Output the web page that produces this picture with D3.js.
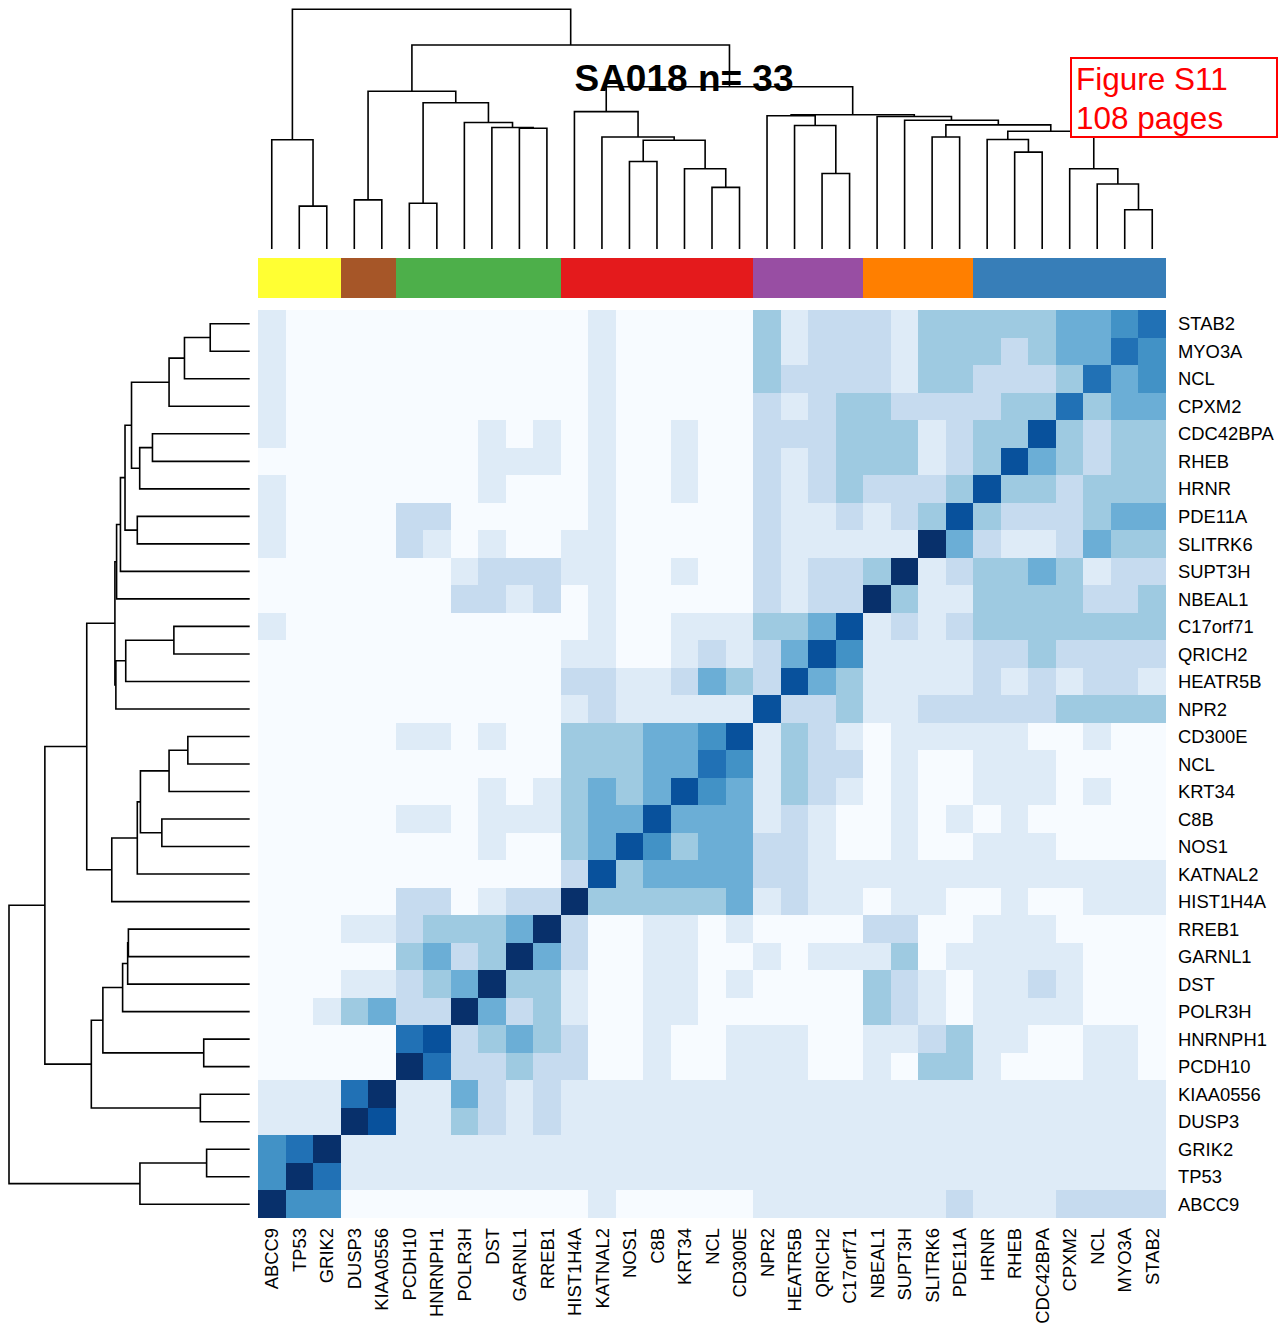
<!DOCTYPE html>
<html>
<head>
<meta charset="utf-8">
<script src="https://cdn.jsdelivr.net/npm/d3@7"></script>
<style>
  html, body { margin: 0; padding: 0; background: #fff; }
  svg { display: block; }
  text { font-family: "Liberation Sans", Arial, sans-serif; }
</style>
</head>
<body>
<svg id="chart" width="1288" height="1326"></svg>
<script>
// Gene order along the columns (left to right)
const colLabels = ["ABCC9","TP53","GRIK2","DUSP3","KIAA0556","PCDH10","HNRNPH1","POLR3H","DST","GARNL1","RREB1",
  "HIST1H4A","KATNAL2","NOS1","C8B","KRT34","NCL","CD300E","NPR2","HEATR5B","QRICH2","C17orf71",
  "NBEAL1","SUPT3H","SLITRK6","PDE11A","HRNR","RHEB","CDC42BPA","CPXM2","NCL","MYO3A","STAB2"];

// Gene order along the rows (top to bottom)
const rowLabels = ["STAB2","MYO3A","NCL","CPXM2","CDC42BPA","RHEB","HRNR","PDE11A","SLITRK6","SUPT3H","NBEAL1",
  "C17orf71","QRICH2","HEATR5B","NPR2","CD300E","NCL","KRT34","C8B","NOS1","KATNAL2","HIST1H4A",
  "RREB1","GARNL1","DST","POLR3H","HNRNPH1","PCDH10","KIAA0556","DUSP3","GRIK2","TP53","ABCC9"];

// Cluster membership of each column (colour bar)
const colGroups = [1,1,1,2,2,3,3,3,3,3,3,4,4,4,4,4,4,4,5,5,5,5,6,6,6,6,7,7,7,7,7,7,7];
const groupColors = ["#FFFF33","#A65628","#4DAF4A","#E41A1C","#984EA3","#FF7F00","#377EB8"];

// Binned similarity level (0 = none ... 8 = strongest), one row per rowLabels entry
const levels = [
  [1,0,0,0,0,0,0,0,0,0,0,0,1,0,0,0,0,0,3,1,2,2,2,1,3,3,3,3,3,4,4,5,6],
  [1,0,0,0,0,0,0,0,0,0,0,0,1,0,0,0,0,0,3,1,2,2,2,1,3,3,3,2,3,4,4,6,5],
  [1,0,0,0,0,0,0,0,0,0,0,0,1,0,0,0,0,0,3,2,2,2,2,1,3,3,2,2,2,3,6,4,5],
  [1,0,0,0,0,0,0,0,0,0,0,0,1,0,0,0,0,0,2,1,2,3,3,2,2,2,2,3,3,6,3,4,4],
  [1,0,0,0,0,0,0,0,1,0,1,0,1,0,0,1,0,0,2,2,2,3,3,3,1,2,3,3,7,3,2,3,3],
  [0,0,0,0,0,0,0,0,1,1,1,0,1,0,0,1,0,0,2,1,2,3,3,3,1,2,3,7,4,3,2,3,3],
  [1,0,0,0,0,0,0,0,1,0,0,0,1,0,0,1,0,0,2,1,2,3,2,2,2,3,7,3,3,2,3,3,3],
  [1,0,0,0,0,2,2,0,0,0,0,0,1,0,0,0,0,0,2,1,1,2,1,2,3,7,3,2,2,2,3,4,4],
  [1,0,0,0,0,2,1,0,1,0,0,1,1,0,0,0,0,0,2,1,1,1,1,1,8,4,2,1,1,2,4,3,3],
  [0,0,0,0,0,0,0,1,2,2,2,1,1,0,0,1,0,0,2,1,2,2,3,8,1,2,3,3,4,3,1,2,2],
  [0,0,0,0,0,0,0,2,2,1,2,0,1,0,0,0,0,0,2,1,2,2,8,3,1,1,3,3,3,3,2,2,3],
  [1,0,0,0,0,0,0,0,0,0,0,0,1,0,0,1,1,1,3,3,4,7,1,2,1,2,3,3,3,3,3,3,3],
  [0,0,0,0,0,0,0,0,0,0,0,1,1,0,0,1,2,1,2,4,7,5,1,1,1,1,2,2,3,2,2,2,2],
  [0,0,0,0,0,0,0,0,0,0,0,2,2,1,1,2,4,3,2,7,4,3,1,1,1,1,2,1,2,1,2,2,1],
  [0,0,0,0,0,0,0,0,0,0,0,1,2,1,1,1,1,1,7,2,2,3,1,1,2,2,2,2,2,3,3,3,3],
  [0,0,0,0,0,1,1,0,1,0,0,3,3,3,4,4,5,7,1,3,2,1,0,1,1,1,1,1,0,0,1,0,0],
  [0,0,0,0,0,0,0,0,0,0,0,3,3,3,4,4,6,5,1,3,2,2,0,1,0,0,1,1,1,0,0,0,0],
  [0,0,0,0,0,0,0,0,1,0,1,3,4,3,4,7,5,4,1,3,2,1,0,1,0,0,1,1,1,0,1,0,0],
  [0,0,0,0,0,1,1,0,1,1,1,3,4,4,7,4,4,4,1,2,1,0,0,1,0,1,0,1,0,0,0,0,0],
  [0,0,0,0,0,0,0,0,1,0,0,3,4,7,5,3,4,4,2,2,1,0,0,1,0,0,1,1,1,0,0,0,0],
  [0,0,0,0,0,0,0,0,0,0,0,2,7,3,4,4,4,4,2,2,1,1,1,1,1,1,1,1,1,1,1,1,1],
  [0,0,0,0,0,2,2,0,1,2,2,8,3,3,3,3,3,4,1,2,1,1,0,1,1,0,0,1,0,0,1,1,1],
  [0,0,0,1,1,2,3,3,3,4,8,2,0,0,1,1,0,1,0,0,0,0,2,2,0,0,1,1,1,0,0,0,0],
  [0,0,0,0,0,3,4,2,3,8,4,2,0,0,1,1,0,0,1,0,1,1,1,3,0,1,1,1,1,1,0,0,0],
  [0,0,0,1,1,2,3,4,8,3,3,1,0,0,1,1,0,1,0,0,0,0,3,2,1,0,1,1,2,1,0,0,0],
  [0,0,1,3,4,2,2,8,4,2,3,1,0,0,1,1,0,0,0,0,0,0,3,2,1,0,1,1,1,1,0,0,0],
  [0,0,0,0,0,6,7,2,3,4,3,2,0,0,1,0,0,1,1,1,0,0,1,1,2,3,1,1,0,0,1,1,0],
  [0,0,0,0,0,8,6,2,2,3,2,2,0,0,1,0,0,1,1,1,0,0,1,0,3,3,1,0,0,0,1,1,0],
  [1,1,1,6,8,1,1,4,2,1,2,1,1,1,1,1,1,1,1,1,1,1,1,1,1,1,1,1,1,1,1,1,1],
  [1,1,1,8,7,1,1,3,2,1,2,1,1,1,1,1,1,1,1,1,1,1,1,1,1,1,1,1,1,1,1,1,1],
  [5,6,8,1,1,1,1,1,1,1,1,1,1,1,1,1,1,1,1,1,1,1,1,1,1,1,1,1,1,1,1,1,1],
  [5,8,6,1,1,1,1,1,1,1,1,1,1,1,1,1,1,1,1,1,1,1,1,1,1,1,1,1,1,1,1,1,1],
  [8,5,5,0,0,0,0,0,0,0,0,0,1,0,0,0,0,0,1,1,1,1,1,1,1,2,1,1,1,2,2,2,2]
];

// Hierarchical clustering merges (hclust convention: -k = leaf at column k, +k = merge k), with merge height
const merges = [
  [-2,-3,0.179],[-1,1,0.456],[-4,-5,0.205],[-6,-7,0.191],[-10,-11,0.504],[-9,5,0.507],
  [-8,6,0.528],[4,7,0.610],[3,8,0.658],[-14,-15,0.365],[-17,-18,0.257],[-16,11,0.335],
  [10,12,0.454],[-13,13,0.467],[-12,14,0.573],[-21,-22,0.315],[-20,16,0.515],[-19,17,0.556],
  [-25,-26,0.467],[-28,-29,0.404],[-27,20,0.457],[-32,-33,0.164],[-31,22,0.271],[-30,23,0.335],
  [21,24,0.491],[19,25,0.518],[-24,26,0.537],[-23,27,0.553],[18,28,0.560],[15,29,0.677],
  [9,30,0.851],[2,31,1.0]
];

const titleText = "SA018 n= 33";
const noteLines = ["Figure S11", "108 pages"];

// ---------------------------------------------------------------------------
const svg = d3.select("#chart");
const n = colLabels.length;

const x = d3.scaleBand().domain(d3.range(n)).range([258, 1166]);
const y = d3.scaleBand().domain(d3.range(n)).range([310, 1218]);
const color = d3.scaleOrdinal().domain(d3.range(9)).range(d3.schemeBlues[9]);
const groupColor = d3.scaleOrdinal().domain(d3.range(1, 8)).range(groupColors);

// Heatmap cells
const cells = [];
levels.forEach((row, r) => row.forEach((v, c) => cells.push({ r, c, v })));
svg.append("g")
  .selectAll("rect")
  .data(cells)
  .join("rect")
  .attr("x", d => x(d.c))
  .attr("y", d => y(d.r))
  .attr("width", x.bandwidth() + 0.4)
  .attr("height", y.bandwidth() + 0.4)
  .attr("fill", d => color(d.v))
  .attr("shape-rendering", "crispEdges");

// Column colour bar
const barY = d3.scaleLinear().domain([0, 1]).range([258, 297.7]);
svg.append("g")
  .selectAll("rect")
  .data(colGroups)
  .join("rect")
  .attr("x", (g, i) => x(i))
  .attr("y", barY(0))
  .attr("width", x.bandwidth() + 0.4)
  .attr("height", barY(1) - barY(0))
  .attr("fill", g => groupColor(g))
  .attr("shape-rendering", "crispEdges");

// Dendrogram layout from merge table
function layoutTree(leafPos) {
  const nodes = [];
  const get = k => (k < 0 ? { p: leafPos(-k - 1), h: 0 } : nodes[k - 1]);
  const links = [];
  merges.forEach(([a, b, h]) => {
    const A = get(a), B = get(b);
    links.push({ A, B, h });
    nodes.push({ p: (A.p + B.p) / 2, h });
  });
  return links;
}

// Column dendrogram (top)
const colH = d3.scaleLinear().domain([0, 1]).range([249, 9.3]);
const colLinks = layoutTree(i => x(i) + x.bandwidth() / 2);
svg.append("g")
  .attr("fill", "none").attr("stroke", "#000").attr("stroke-width", 1.6)
  .selectAll("path")
  .data(colLinks)
  .join("path")
  .attr("d", d => `M${d.A.p},${colH(d.A.h)}V${colH(d.h)}H${d.B.p}V${colH(d.B.h)}`);

// Row dendrogram (left); rows run in reverse column order
const rowH = d3.scaleLinear().domain([0, 1]).range([249.7, 9]);
const rowLinks = layoutTree(i => y(n - 1 - i) + y.bandwidth() / 2);
svg.append("g")
  .attr("fill", "none").attr("stroke", "#000").attr("stroke-width", 1.6)
  .selectAll("path")
  .data(rowLinks)
  .join("path")
  .attr("d", d => `M${rowH(d.A.h)},${d.A.p}H${rowH(d.h)}V${d.B.p}H${rowH(d.B.h)}`);

// Row labels
svg.append("g")
  .selectAll("text")
  .data(rowLabels)
  .join("text")
  .attr("x", 1178)
  .attr("y", (d, i) => y(i) + y.bandwidth() / 2)
  .attr("dy", "0.36em")
  .attr("font-size", 18.4)
  .attr("fill", "#000")
  .text(d => d);

// Column labels, rotated
svg.append("g")
  .selectAll("text")
  .data(colLabels)
  .join("text")
  .attr("transform", (d, i) => `translate(${x(i) + x.bandwidth() / 2},1228) rotate(-90)`)
  .attr("text-anchor", "end")
  .attr("dy", "0.36em")
  .attr("font-size", 18.4)
  .attr("fill", "#000")
  .text(d => d);

// Title
svg.append("text")
  .attr("x", 684)
  .attr("y", 91)
  .attr("text-anchor", "middle")
  .attr("font-size", 37)
  .attr("font-weight", "bold")
  .attr("fill", "#000")
  .text(titleText);

// Red annotation box
svg.append("rect")
  .attr("x", 1071).attr("y", 58)
  .attr("width", 206).attr("height", 79)
  .attr("fill", "#fff").attr("stroke", "#FF0000").attr("stroke-width", 2);
svg.append("g")
  .selectAll("text")
  .data(noteLines)
  .join("text")
  .attr("x", 1076)
  .attr("y", (d, i) => 90 + i * 39)
  .attr("font-size", 31.5)
  .attr("fill", "#FF0000")
  .text(d => d);
</script>
</body>
</html>
